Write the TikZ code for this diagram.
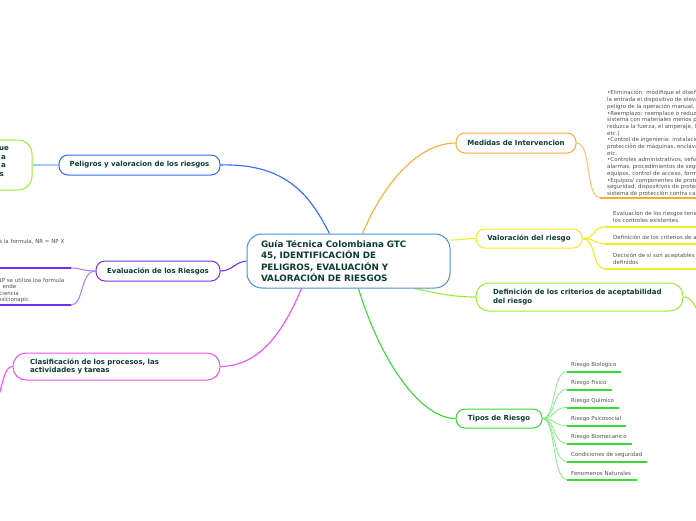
\documentclass[tikz,border=0pt]{standalone}
\usepackage{fontspec}
\setmainfont{DejaVu Sans}
\usetikzlibrary{backgrounds}
\definecolor{ccentral}{RGB}{74,144,217}
\definecolor{cblue}{RGB}{51,102,255}
\definecolor{clblue}{RGB}{170,200,255}
\definecolor{cpurple}{RGB}{112,48,240}
\definecolor{cmag}{RGB}{240,80,240}
\definecolor{corange}{RGB}{255,170,51}
\definecolor{cyellow}{RGB}{238,238,34}
\definecolor{clgreen}{RGB}{153,238,51}
\definecolor{cgreen}{RGB}{51,221,51}
\definecolor{ttext}{RGB}{13,60,50}
\definecolor{cgray}{RGB}{80,80,80}
\tikzset{
  title/.style={draw, line width=1pt, rounded corners=9pt, fill=white,
    font=\fontsize{7}{8.5}\selectfont\bfseries, text=ttext, inner sep=0pt,
    minimum height=20pt, align=center},
  frag/.style={font=\fontsize{7}{8.5}\selectfont\bfseries, text=ttext, inner sep=0pt},
  smalltxt/.style={font=\fontsize{5.5}{6.7}\selectfont, text=cgray, inner sep=0pt, align=left},
  link/.style={line width=1.1pt},
  uline/.style={line width=2pt},
}
\begin{document}
\begin{tikzpicture}[x=1pt,y=-1pt]
\useasboundingbox (0,0) rectangle (696,520);
\clip (0,0) rectangle (696,520);

% central node
\node[draw=ccentral, line width=1pt, rounded corners=15pt, fill=white,
  minimum width=203pt, minimum height=54pt, text width=175pt, align=left,
  inner sep=0pt, text=ttext, font=\fontsize{8.8}{11.3}\selectfont\bfseries]
  (c) at (348.5,261) {Guía Técnica Colombiana GTC\\45, IDENTIFICACIÓN DE\\PELIGROS, EVALUACIÓN Y\\VALORACIÓN DE RIESGOS};

% left branches
\node[title, draw=cblue, minimum width=161pt] (pel) at (139.5,165) {Peligros y valoracion de los riesgos};
\node[title, draw=clgreen, minimum width=112pt, minimum height=50pt, rounded corners=14pt] (gn) at (-24,165) {};
\node[frag, anchor=east] (g1) at (9,149) {que};
\node[frag, anchor=east] (g2) at (6,157.5) {a};
\node[frag, anchor=east] (g3) at (6,166) {a};
\node[frag, anchor=east] (g4) at (4,174.5) {s};

\node[title, draw=cpurple, minimum width=124pt] (eva) at (158,271) {Evaluación de los Riesgos};
\node[smalltxt, anchor=east] (e0) at (64.5,242) {a la formula, NR = NP X};
\node[smalltxt, anchor=east] (e1) at (64.5,280) {NP se utiliza loa formula};
\node[smalltxt, anchor=east] (e2) at (16.5,286.5) {ende};
\node[smalltxt, anchor=east] (e3) at (19,293) {ciencia};
\node[smalltxt, anchor=east] (e4) at (29,299.5) {osicionapic};
\coordinate (ea1) at (-5,268); \coordinate (eb1) at (71,268);
\coordinate (ea2) at (-5,305); \coordinate (eb2) at (71,305);

\node[title, draw=cmag, minimum width=207pt, minimum height=27pt, rounded corners=13pt,
  text width=173pt, align=left] (cla) at (116.5,366.5) {Clasificación de los procesos, las\\actividades y tareas};
\coordinate (claout) at (-6,412);

% right branches
\node[title, draw=corange, minimum width=120pt] (med) at (516,143) {Medidas de Intervencion};
\node[smalltxt, anchor=north west] (medt) at (607,90.3) {%
•Eliminación: modifique el diseño para\\
la entrada el dispositivo de elevación\\
peligro de la operación manual.\\
•Reemplazo: reemplace o reduzca el\\
sistema con materiales menos peligrosos\\
reduzca la fuerza, el amperaje, la presión\\
etc.)\\
•Control de ingeniería: instalación de\\
protección de máquinas, enclavamiento\\
etc.\\
•Controles administrativos, señales de\\
alarmas, procedimientos de seguridad\\
equipos, control de acceso, formación\\
•Equipos/ componentes de protección\\
seguridad, dispositivos de protección\\
sistema de protección contra caídas};
\coordinate (ma) at (600,197.5); \coordinate (mb) at (700,197.5);

\node[title, draw=cyellow, minimum width=106pt, minimum height=19pt] (val) at (529,238.5) {Valoración del riesgo};
\node[smalltxt, anchor=north west] (v1) at (613,211.3) {Evaluacion de los riesgos teniendo en\\los controles existentes.};
\node[smalltxt, anchor=west] (v2) at (613,238) {Definición de los criterios de aceptabilidad};
\node[smalltxt, anchor=north west] (v3) at (613,253.3) {Decisión de si son aceptables o no\\definidos};
\coordinate (va1) at (605,227); \coordinate (vb1) at (700,227);
\coordinate (va2) at (605,243.5); \coordinate (vb2) at (700,243.5);
\coordinate (va3) at (605,269); \coordinate (vb3) at (700,269);

\node[title, draw=clgreen, minimum width=207pt, minimum height=28pt, rounded corners=13pt,
  text width=173pt, align=left] (def) at (579.5,297) {Definición de los criterios de aceptabilidad\\del riesgo};
\coordinate (defout) at (702,318);

\node[title, draw=cgreen, minimum width=86pt, minimum height=19pt] (tip) at (499,418.5) {Tipos de Riesgo};
\foreach \i/\t/\yy/\xe in {1/Riesgo Biologico/365/621,2/Riesgo Fisico/383/612,3/Riesgo Quimico/401/619,
  4/Riesgo Psicosocial/419/626,5/Riesgo Biomecanico/437/632,6/Condiciones de seguridad/455/647,
  7/Fenomenos Naturales/473/637}{
  \node[smalltxt, anchor=west] (t\i) at (571,\yy) {\t};
  \coordinate (ta\i) at (567,\yy+6.5);
  \coordinate (tb\i) at (\xe,\yy+6.5);
}

\begin{pgfonlayer}{background}
  % central links
  \draw[link, cblue] ([xshift=-19pt]c.north) .. controls (312,200) and (290,163) .. (pel.east);
  \draw[link, cpurple] (c.west) .. controls (235,262) and (232,271) .. (eva.east);
  \draw[link, cmag] ([xshift=-47pt]c.south) .. controls (280,340) and (255,366) .. (cla.east);
  \draw[link, corange] ([xshift=14pt]c.north) .. controls (385,180) and (420,143) .. (med.west);
  \draw[link, cyellow] ([yshift=21pt]c.east) .. controls (460,240) and (466,238.5) .. (val.west);
  \draw[link, clgreen] ([xshift=66pt]c.south) .. controls (440,294) and (455,297) .. (def.west);
  \draw[link, cgreen] ([xshift=10pt]c.south) .. controls (380,360) and (420,418.5) .. (tip.west);
  % sub links
  \draw[line width=1.5pt, clblue] (pel.west) -- (gn.east);
  \draw[link, cpurple!60] (eva.west) .. controls (82,271) and (82,268) .. (eb1);
  \draw[link, cpurple!60] (eva.west) .. controls (80,271) and (84,305) .. (eb2);
  \draw[uline, cpurple] (ea1) -- (eb1);
  \draw[uline, cpurple] (ea2) -- (eb2);
  \draw[link, cmag] (cla.west) .. controls (4,366) and (3,385) .. (claout);
  \draw[link, corange!70] (med.east) .. controls (592,143) and (585,197.5) .. (ma);
  \draw[uline, corange] (ma) -- (mb);
  \foreach \k in {1,2,3}{
    \draw[link, cyellow] (val.east) .. controls (596,238.5) and (592,0 |- va\k) .. (va\k);
  }
  \draw[uline, cyellow] (va1) -- (vb1);
  \draw[uline, cyellow] (va2) -- (vb2);
  \draw[uline, cyellow] (va3) -- (vb3);
  \draw[link, clgreen] (def.east) .. controls (692,297) and (694,305) .. (defout);
  \foreach \k in {1,...,7}{
    \draw[line width=0.8pt, cgreen!60] (tip.east) .. controls (556,418.5) and (552,0 |- ta\k) .. (ta\k);
    \draw[uline, cgreen] (ta\k) -- (tb\k);
  }
\end{pgfonlayer}
\end{tikzpicture}
\end{document}
